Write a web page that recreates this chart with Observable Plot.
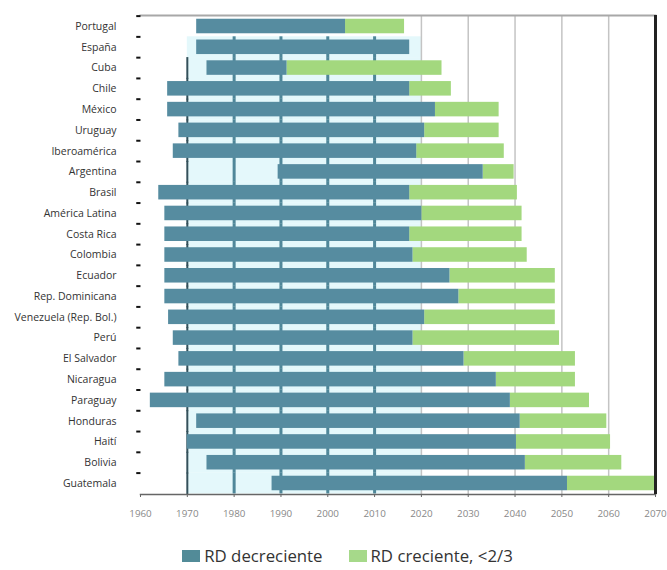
<!DOCTYPE html>
<html>
<head>
<meta charset="utf-8">
<script src="https://cdn.jsdelivr.net/npm/d3@7"></script>
<script src="https://cdn.jsdelivr.net/npm/@observablehq/plot@0.6"></script>
<style>
  body { margin: 0; background: #fff; font-family: "Open Sans", "Noto Sans", sans-serif; }
  #legend { display: flex; justify-content: center; align-items: center; gap: 26px; margin-top: 15px; padding-left: 28px; font-size: 16.8px; color: #333; line-height: 22px; }
  .item { display: flex; align-items: center; }
  .sw { width: 18px; height: 12px; margin-right: 4px; display: inline-block; }
</style>
</head>
<body>
<div id="chart"></div>
<div id="legend">
  <span class="item"><span class="sw" style="background:#528b98"></span>RD decreciente</span>
  <span class="item"><span class="sw" style="background:#a6d98a"></span>RD creciente, &lt;2/3</span>
</div>
<script>
const countries = ["Portugal", "España", "Cuba", "Chile", "México", "Uruguay", "Iberoamérica", "Argentina", "Brasil", "América Latina", "Costa Rica", "Colombia", "Ecuador", "Rep. Dominicana", "Venezuela (Rep. Bol.)", "Perú", "El Salvador", "Nicaragua", "Paraguay", "Honduras", "Haití", "Bolivia", "Guatemala"];
const decStart = [1972, 1972, 1974.2, 1965.8, 1965.8, 1968.2, 1967, 1989.4, 1963.9, 1965.2, 1965.2, 1965.2, 1965.2, 1965.2, 1966, 1967, 1968.2, 1965.2, 1962.1, 1972, 1970, 1974.2, 1988.1];
const decEnd = [2003.8, 2017.5, 1991.3, 2017.5, 2023, 2020.7, 2019, 2033.2, 2017.5, 2020.1, 2017.5, 2018.2, 2026.1, 2028, 2020.7, 2018.2, 2029.1, 2036, 2039, 2041.1, 2040.3, 2042.2, 2051.2];
const growEnd = [2016.4, 2017.5, 2024.4, 2026.4, 2036.6, 2036.6, 2037.7, 2039.8, 2040.5, 2041.5, 2041.5, 2042.6, 2048.6, 2048.6, 2048.6, 2049.5, 2052.9, 2052.9, 2055.9, 2059.6, 2060.4, 2062.8, 2069.8];
const tickYears = [1960, 1970, 1980, 1990, 2000, 2010, 2020, 2030, 2040, 2050, 2060, 2070];
const tealGridYears = [1980, 1990, 2000, 2010];
const lightGridYears = [2020, 2030, 2040, 2050, 2060];

const rows = countries.map((c, i) => ({country: c, start: decStart[i], end: decEnd[i], grow: growEnd[i]}));
const lower = countries.slice(1);
const tealPairs = tealGridYears.flatMap(y => lower.map(c => ({year: y, country: c})));
const darkPairs = countries.slice(2).map(c => ({year: 1970, country: c}));

const chart = Plot.plot({
  width: 667,
  height: 530,
  marginLeft: 140,
  marginRight: 12,
  marginTop: 15,
  marginBottom: 36,
  style: {fontFamily: "'Open Sans', 'Noto Sans', sans-serif", background: "#fff"},
  x: {domain: [1960, 2070], ticks: tickYears, tickFormat: d => String(d), label: null},
  y: {domain: countries, paddingInner: 0.3, paddingOuter: 0.18, round: false, label: null},
  marks: [
    Plot.barX(lower, {x1: 1970, x2: 2020, y: d => d, fill: "#e4f8fb", insetTop: -3.2, insetBottom: -3.2}),
    Plot.ruleX(lightGridYears, {x: d => d, stroke: "#c4c4c4", strokeWidth: 1.5}),
    Plot.tickX(tealPairs, {x: "year", y: "country", stroke: "#4f8799", strokeWidth: 3, insetTop: -3.2, insetBottom: -3.2}),
    Plot.tickX(darkPairs, {x: "year", y: "country", stroke: "#34505a", strokeWidth: 2, insetTop: -3.2, insetBottom: -4}),
    Plot.barX(rows, {x1: "end", x2: "grow", y: "country", fill: "#a3d87e"}),
    Plot.barX(rows, {x1: "start", x2: "end", y: "country", fill: "#568ca0"}),
    Plot.frame({anchor: "top", stroke: "#a8a8a8", strokeWidth: 2}),
    Plot.frame({anchor: "bottom", stroke: "#666", strokeWidth: 1.5}),
    Plot.ruleX([2070], {x: d => d, stroke: "#222", strokeWidth: 3}),
    Plot.ruleY(countries, {y: d => d, x1: 1959.2, x2: 1960.1, dy: -10.4, stroke: "#111", strokeWidth: 2}),
    Plot.axisY({tickSize: 0, tickPadding: 24, fontSize: 10.5, fill: "#333", label: null}),
    Plot.axisX({ticks: tickYears, tickFormat: d => String(d), tickSize: 3, tickPadding: 13, fontSize: 9.8, fill: "#888", stroke: "#666", label: null})
  ]
});
document.getElementById("chart").appendChild(chart);
</script>
</body>
</html>
